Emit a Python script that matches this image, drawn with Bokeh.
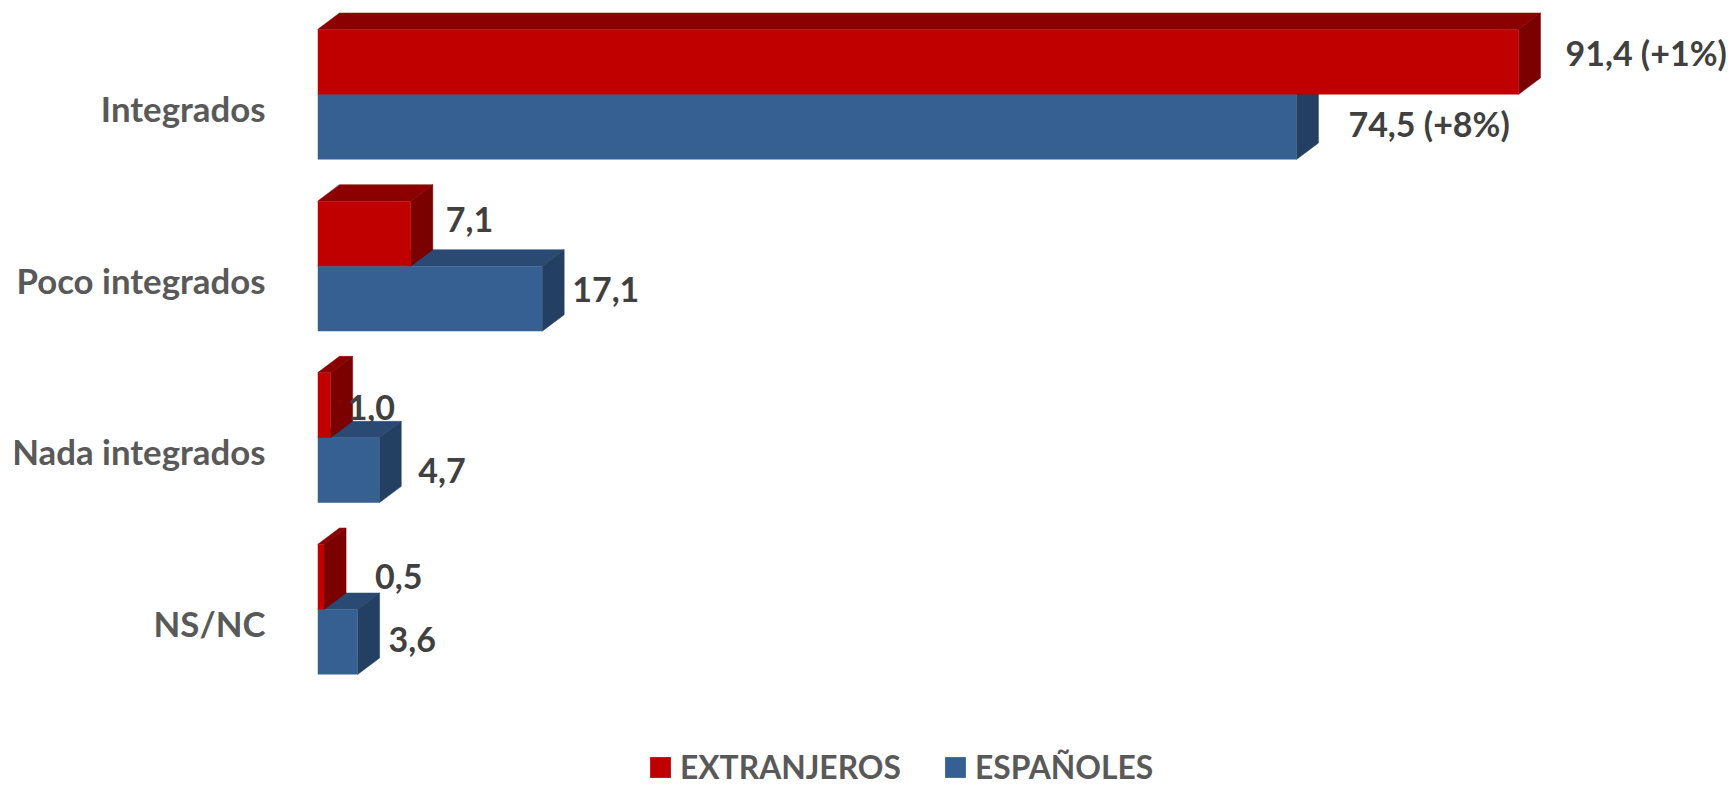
from bokeh.plotting import figure
from bokeh.models import Range1d, FixedTicker, ColumnDataSource, Legend, LegendItem
from bokeh.core.properties import value
from bokeh.embed import file_html
from bokeh.resources import INLINE

categories = ["Integrados", "Poco integrados", "Nada integrados", "NS/NC"]
extranjeros = [91.4, 7.1, 1.0, 0.5]
# last blue bar is drawn shorter in the source than its printed label says
espanoles = [74.5, 17.1, 4.7, 3.05]
labels_ext = ["91,4 (+1%)", "7,1", "1,0", "0,5"]
labels_esp = ["74,5 (+8%)", "17,1", "4,7", "3,6"]

W, H = 1733, 786
LEFT = 317
PX_PER_UNIT = 13.14
PX_PER_GROUP = 171.67
FIRST_LABEL_Y = 108
BAR_PX = 65
DEPTH_X_PX = 22
DEPTH_Y_PX = 16.5
SPLIT_PX = 14   # bars' shared edge sits this far above the category label

bar_h = BAR_PX / PX_PER_GROUP
depth_x = DEPTH_X_PX / PX_PER_UNIT
depth_y = DEPTH_Y_PX / PX_PER_GROUP
split = SPLIT_PX / PX_PER_GROUP

p = figure(width=W, height=H, output_backend="svg", toolbar_location=None,
           x_range=Range1d(0, (W - LEFT) / PX_PER_UNIT),
           y_range=Range1d((H - FIRST_LABEL_Y) / PX_PER_GROUP, -FIRST_LABEL_Y / PX_PER_GROUP),
           min_border_left=LEFT, min_border_right=0, min_border_top=0, min_border_bottom=0,
           x_axis_location=None, outline_line_color=None, background_fill_color=None)
p.grid.visible = False

ax = p.yaxis[0]
ax.ticker = FixedTicker(ticks=list(range(len(categories))))
ax.major_label_overrides = {i: c for i, c in enumerate(categories)}
ax.axis_line_color = None
ax.major_tick_line_color = None
ax.minor_tick_line_color = None
ax.major_label_standoff = 46
ax.major_label_text_font = "Lato"
ax.major_label_text_font_style = "bold"
ax.major_label_text_font_size = "34.8px"
ax.major_label_text_color = "#595959"


def draw(vals, offset, front, top, side):
    ys = [i + offset for i in range(len(vals))]
    t_x, t_y, s_x, s_y = [], [], [], []
    for v, y in zip(vals, ys):
        y0, y1 = y - bar_h / 2, y + bar_h / 2
        t_x.append([0, v, v + depth_x, depth_x])
        t_y.append([y0, y0, y0 - depth_y, y0 - depth_y])
        s_x.append([v, v + depth_x, v + depth_x, v])
        s_y.append([y0, y0 - depth_y, y1 - depth_y, y1])
    p.patches(t_x, t_y, fill_color=top, line_color=top, line_width=0.5)
    p.patches(s_x, s_y, fill_color=side, line_color=side, line_width=0.5)
    return p.hbar(y=ys, left=0, right=vals, height=bar_h, fill_color=front, line_color=None)


r_esp = draw(espanoles, -split + bar_h / 2, "#376092", "#2A4A73", "#233F61")
r_ext = draw(extranjeros, -split - bar_h / 2, "#C00000", "#8B0000", "#7B0000")


def put_labels(vals, texts, offset, dx, dy):
    src = ColumnDataSource(dict(x=vals, y=[i + offset for i in range(len(vals))],
                                t=texts, dx=dx, dy=dy))
    p.text(x="x", y="y", text="t", x_offset="dx", y_offset="dy", source=src,
           text_font=value("Lato"), text_font_style="bold", text_font_size="34px",
           text_color="#404040", text_align="left", text_baseline="alphabetic")


put_labels(extranjeros, labels_ext, -split - bar_h / 2, [47, 35, 17, 51], [-9.5, -14.5, 2.5, -0.5])
put_labels(espanoles, labels_esp, -split + bar_h / 2, [52, 30, 39, 31], [-3.5, -9.5, 0.5, -2.5])

legend = Legend(items=[LegendItem(label="EXTRANJEROS", renderers=[r_ext]),
                       LegendItem(label="ESPAÑOLES", renderers=[r_esp])],
                orientation="horizontal", location=(647 - LEFT, 0),
                glyph_width=26, glyph_height=26, label_standoff=7, spacing=41,
                padding=0, margin=0, border_line_color=None, background_fill_alpha=0,
                label_text_font="Lato", label_text_font_style="bold",
                label_text_font_size="31.8px", label_text_color="#595959")
p.add_layout(legend, "center")

open("out.html", "w").write(file_html(p, INLINE))
